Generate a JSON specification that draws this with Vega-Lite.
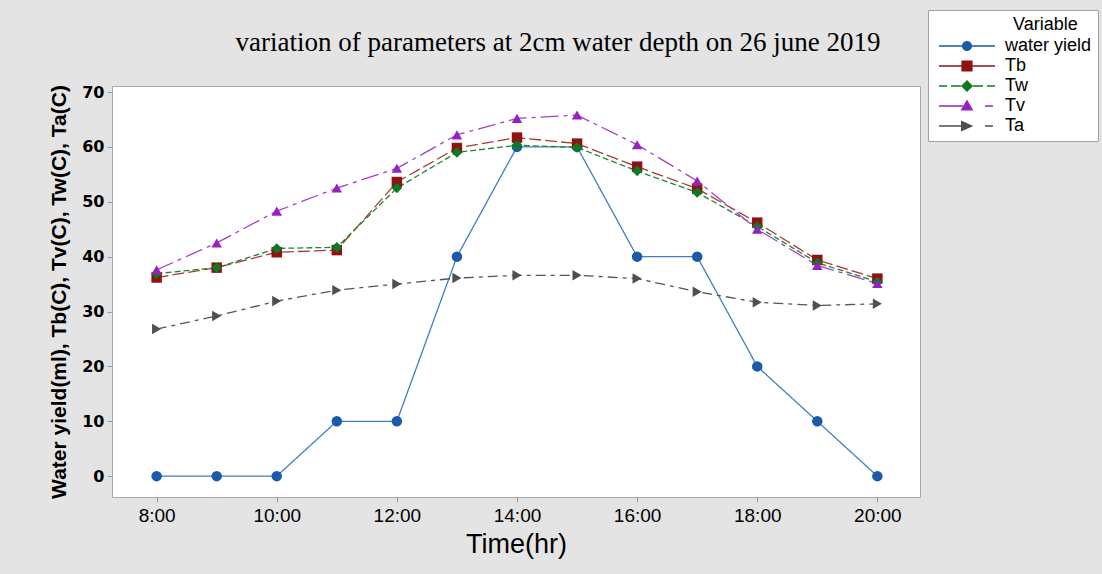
{
  "$schema": "https://vega.github.io/schema/vega-lite/v6.json",
  "width": 808,
  "height": 411,
  "autosize": {"type": "none"},
  "padding": {"left": 112, "top": 86, "right": 182, "bottom": 77},
  "background": "#e4e4e4",
  "config": {
    "view": {"fill": "white", "stroke": "#a8a8a8", "strokeWidth": 1},
    "axis": {"grid": false, "domain": false, "tickColor": "#9a9a9a", "tickSize": 5, "labelColor": "black", "titleColor": "black"}
  },
  "title": {
    "text": "variation of parameters at 2cm water depth on 26 june 2019",
    "font": "Liberation Serif",
    "fontSize": 27,
    "fontWeight": "normal",
    "color": "black",
    "anchor": "middle",
    "dx": 42,
    "offset": -47
  },
  "data": {
    "values": [
      {"time": 8, "Variable": "water yield", "value": 0},
      {"time": 9, "Variable": "water yield", "value": 0},
      {"time": 10, "Variable": "water yield", "value": 0},
      {"time": 11, "Variable": "water yield", "value": 10},
      {"time": 12, "Variable": "water yield", "value": 10},
      {"time": 13, "Variable": "water yield", "value": 40},
      {"time": 14, "Variable": "water yield", "value": 60},
      {"time": 15, "Variable": "water yield", "value": 60},
      {"time": 16, "Variable": "water yield", "value": 40},
      {"time": 17, "Variable": "water yield", "value": 40},
      {"time": 18, "Variable": "water yield", "value": 20},
      {"time": 19, "Variable": "water yield", "value": 10},
      {"time": 20, "Variable": "water yield", "value": 0},
      {"time": 8, "Variable": "Tb", "value": 36.2},
      {"time": 9, "Variable": "Tb", "value": 38.0},
      {"time": 10, "Variable": "Tb", "value": 40.8},
      {"time": 11, "Variable": "Tb", "value": 41.2},
      {"time": 12, "Variable": "Tb", "value": 53.6},
      {"time": 13, "Variable": "Tb", "value": 59.8},
      {"time": 14, "Variable": "Tb", "value": 61.7},
      {"time": 15, "Variable": "Tb", "value": 60.6},
      {"time": 16, "Variable": "Tb", "value": 56.4},
      {"time": 17, "Variable": "Tb", "value": 52.4},
      {"time": 18, "Variable": "Tb", "value": 46.2},
      {"time": 19, "Variable": "Tb", "value": 39.4},
      {"time": 20, "Variable": "Tb", "value": 36.0},
      {"time": 8, "Variable": "Tw", "value": 36.9},
      {"time": 9, "Variable": "Tw", "value": 38.0},
      {"time": 10, "Variable": "Tw", "value": 41.5},
      {"time": 11, "Variable": "Tw", "value": 41.7},
      {"time": 12, "Variable": "Tw", "value": 52.5},
      {"time": 13, "Variable": "Tw", "value": 59.0},
      {"time": 14, "Variable": "Tw", "value": 60.3},
      {"time": 15, "Variable": "Tw", "value": 59.9},
      {"time": 16, "Variable": "Tw", "value": 55.6},
      {"time": 17, "Variable": "Tw", "value": 51.7},
      {"time": 18, "Variable": "Tw", "value": 45.5},
      {"time": 19, "Variable": "Tw", "value": 38.9},
      {"time": 20, "Variable": "Tw", "value": 35.4},
      {"time": 8, "Variable": "Tv", "value": 37.6},
      {"time": 9, "Variable": "Tv", "value": 42.5},
      {"time": 10, "Variable": "Tv", "value": 48.3},
      {"time": 11, "Variable": "Tv", "value": 52.5},
      {"time": 12, "Variable": "Tv", "value": 56.1},
      {"time": 13, "Variable": "Tv", "value": 62.2},
      {"time": 14, "Variable": "Tv", "value": 65.2},
      {"time": 15, "Variable": "Tv", "value": 65.8},
      {"time": 16, "Variable": "Tv", "value": 60.4},
      {"time": 17, "Variable": "Tv", "value": 53.8},
      {"time": 18, "Variable": "Tv", "value": 45.0},
      {"time": 19, "Variable": "Tv", "value": 38.4},
      {"time": 20, "Variable": "Tv", "value": 35.1},
      {"time": 8, "Variable": "Ta", "value": 26.8},
      {"time": 9, "Variable": "Ta", "value": 29.2},
      {"time": 10, "Variable": "Ta", "value": 31.9},
      {"time": 11, "Variable": "Ta", "value": 33.9},
      {"time": 12, "Variable": "Ta", "value": 35.0},
      {"time": 13, "Variable": "Ta", "value": 36.1},
      {"time": 14, "Variable": "Ta", "value": 36.6},
      {"time": 15, "Variable": "Ta", "value": 36.6},
      {"time": 16, "Variable": "Ta", "value": 36.0},
      {"time": 17, "Variable": "Ta", "value": 33.6},
      {"time": 18, "Variable": "Ta", "value": 31.7},
      {"time": 19, "Variable": "Ta", "value": 31.1},
      {"time": 20, "Variable": "Ta", "value": 31.4}
    ]
  },
  "encoding": {
    "x": {
      "field": "time",
      "type": "quantitative",
      "scale": {"domain": [7.257, 20.71], "nice": false, "zero": false},
      "axis": {
        "values": [8, 10, 12, 14, 16, 18, 20],
        "labelExpr": "datum.value + ':00'",
        "labelFont": "Liberation Sans",
        "labelFontSize": 19,
        "labelPadding": 4,
        "title": "Time(hr)",
        "titleFont": "Liberation Sans",
        "titleFontSize": 27,
        "titleFontWeight": "normal",
        "titlePadding": 6
      }
    },
    "y": {
      "field": "value",
      "type": "quantitative",
      "scale": {"domain": [-3.8, 71.1], "nice": false, "zero": false},
      "axis": {
        "values": [0, 10, 20, 30, 40, 50, 60, 70],
        "labelFont": "DejaVu Sans",
        "labelFontWeight": "bold",
        "labelFontSize": 16,
        "labelPadding": 3,
        "title": "Water yield(ml), Tb(C), Tv(C), Tw(C), Ta(C)",
        "titleFont": "Liberation Sans",
        "titleFontSize": 21,
        "titleFontWeight": "bold",
        "titlePadding": 12
      }
    }
  },
  "layer": [
    {
      "mark": {"type": "line", "strokeWidth": 1.3},
      "encoding": {
        "color": {
          "field": "Variable",
          "type": "nominal",
          "scale": {"domain": ["water yield", "Tb", "Tw", "Tv", "Ta"], "range": ["#3f7ec6", "#a83a3a", "#198a2c", "#a43fd0", "#555555"]},
          "legend": null
        },
        "strokeDash": {
          "field": "Variable",
          "type": "nominal",
          "scale": {"domain": ["water yield", "Tb", "Tw", "Tv", "Ta"], "range": [[1, 0], [12, 4], [6, 3], [18, 5, 4, 5], [10, 5, 4, 5]]},
          "legend": null
        }
      }
    },
    {
      "mark": {"type": "point", "filled": true, "opacity": 1, "size": 110},
      "encoding": {
        "color": {
          "field": "Variable",
          "type": "nominal",
          "scale": {"domain": ["water yield", "Tb", "Tw", "Tv", "Ta"], "range": ["#1b5aa8", "#8e1414", "#0b7a22", "#9522c0", "#4f4f4f"]},
          "legend": null
        },
        "shape": {
          "field": "Variable",
          "type": "nominal",
          "scale": {"domain": ["water yield", "Tb", "Tw", "Tv", "Ta"], "range": ["circle", "square", "diamond", "triangle-up", "triangle-right"]},
          "legend": null
        }
      }
    },
    {
      "mark": {"type": "point", "filled": true, "opacity": 0, "size": 64},
      "encoding": {
        "color": {
          "field": "Variable",
          "type": "nominal",
          "scale": {"domain": ["water yield", "Tb", "Tw", "Tv", "Ta"], "range": ["#1b5aa8", "#8e1414", "#0b7a22", "#9522c0", "#4f4f4f"]},
          "legend": {
            "orient": "none",
            "legendX": 816,
            "legendY": -76,
            "title": "Variable",
            "titleFont": "Liberation Sans",
            "titleFontSize": 18,
            "titleFontWeight": "normal",
            "titleColor": "black",
            "titleAnchor": "middle",
            "titleAlign": "left",
            "titlePadding": 3,
            "labelFont": "Liberation Sans",
            "labelFontSize": 18,
            "labelColor": "black",
            "labelOffset": 53,
            "fillColor": "white",
            "strokeColor": "#a0a0a0",
            "padding": 6,
            "rowPadding": 2,
            "symbolSize": 64,
            "symbolOpacity": 1,
            "symbolStrokeWidth": 0
          }
        },
        "shape": {
          "field": "Variable",
          "type": "nominal",
          "scale": {
            "domain": ["water yield", "Tb", "Tw", "Tv", "Ta"],
            "range": [
              "M-1,-0.17H4.8V0.17H-1Z M7.2,-0.17H13V0.17H7.2Z M4.75,0A1.25,1.25 0 1,1 7.25,0A1.25,1.25 0 1,1 4.75,0Z",
              "M-1,-0.17H4.6V0.17H-1Z M7.4,-0.17H13V0.17H7.4Z M4.6,-1.4H7.4V1.4H4.6Z",
              "M-1,-0.17H1V0.17H-1Z M2,-0.17H4.5V0.17H2Z M7.5,-0.17H10V0.17H7.5Z M11,-0.17H13V0.17H11Z M4.5,0L6,-1.5L7.5,0L6,1.5Z",
              "M-1,-0.17H5V0.17H-1Z M10.5,-0.17H12.5V0.17H10.5Z M4.4,1.1L6,-1.6L7.6,1.1Z",
              "M-1,-0.17H4.5V0.17H-1Z M10.5,-0.17H12.5V0.17H10.5Z M4.5,-1.4L7.6,0L4.5,1.4Z"
            ]
          },
          "legend": {
            "orient": "none",
            "legendX": 816,
            "legendY": -76,
            "title": "Variable",
            "symbolSize": 64,
            "symbolOpacity": 1,
            "symbolStrokeWidth": 0
          }
        }
      }
    }
  ],
  "resolve": {"scale": {"color": "independent", "shape": "independent", "strokeDash": "independent"}}
}
